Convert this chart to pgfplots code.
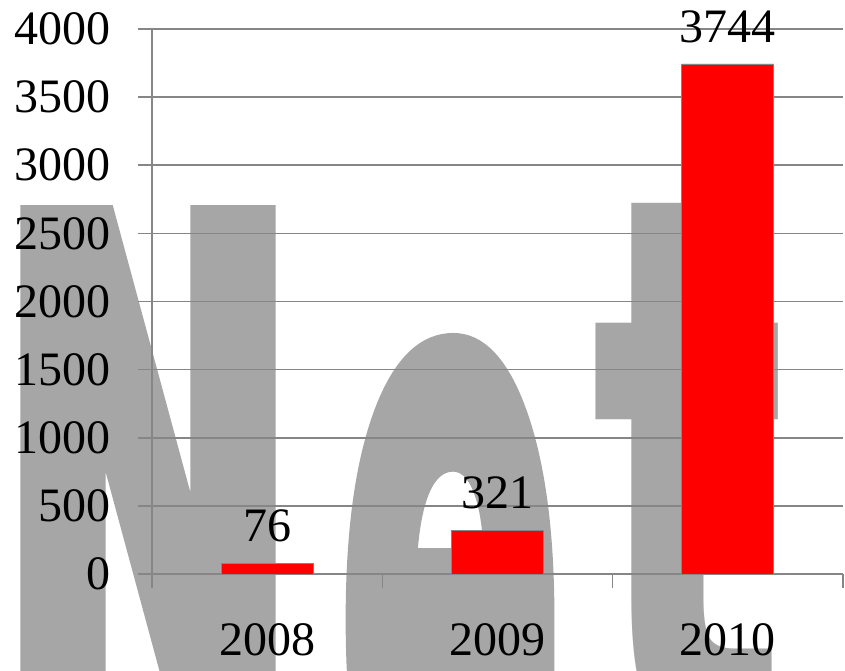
\documentclass[border=0pt]{standalone}
\usepackage{fontspec}
\setmainfont{Liberation Serif}
\newfontfamily\wmfontA{DejaVu Sans}[BoldFeatures={FakeBold=6}]
\newfontfamily\wmfontB{DejaVu Sans}[BoldFeatures={FakeBold=3}]
\newfontfamily\wmfontC{DejaVu Sans}
\usepackage{graphicx}
\usepackage{pgfplots}
\pgfplotsset{compat=1.18}
\definecolor{wm}{RGB}{166,166,166}
\definecolor{gridc}{RGB}{134,134,134}
\newcommand{\bigfont}{\fontsize{48bp}{56bp}\selectfont}
\newcommand{\wmsize}{\bfseries\fontsize{702bp}{702bp}\selectfont}
\begin{document}
\begin{tikzpicture}
\node[anchor=base west, inner sep=0pt, text=wm, overlay] at (-154bp,-164bp)
  {\scalebox{0.51}[1]{\wmfontA\wmsize N}};
\node[anchor=base west, inner sep=0pt, text=wm, overlay] at (184bp,-304bp)
  {\scalebox{0.482}[1.35]{\wmfontB\wmsize e}};
\node[anchor=base west, inner sep=0pt, text=wm, overlay] at (438bp,-171bp)
  {\scalebox{0.588}[1.1]{\wmfontC\wmsize t}};
\begin{axis}[
  at={(0,0)}, anchor=south west,
  scale only axis, width=691bp, height=545bp,
  ybar, bar width=92bp,
  xmin=-0.5, xmax=2.5, ymin=0, ymax=4000,
  xtick={0,1,2}, xticklabels={2008,2009,2010},
  minor xtick={-0.5,0.5,1.5,2.5},
  ytick={0,500,...,4000},
  axis lines=left,
  axis line style={-, draw=gridc, line width=1.5bp},
  ymajorgrids, grid style={draw=gridc, line width=1.5bp},
  tick align=outside, major tick length=14bp, minor tick length=14bp,
  tick style={draw=gridc, line width=1.5bp},
  major x tick style={draw=none},
  minor x tick style={draw=gridc, line width=1.5bp},
  ticklabel style={font=\bigfont, inner sep=0pt},
  yticklabel style={xshift=-27bp},
  xticklabel style={yshift=-35bp},
  /pgf/number format/assume math mode=true,
  /pgf/number format/set thousands separator={},
  nodes near coords,
  nodes near coords style={font=\bigfont, anchor=south, inner sep=0pt, yshift=21bp, text=black},
]
\addplot[fill=red, draw=gridc, line width=0.75bp] coordinates {(0,76) (1,321) (2,3744)};
\end{axis}
\pgfresetboundingbox
\path[use as bounding box] (-152bp,-97bp) rectangle (693bp,574bp);
\end{tikzpicture}
\end{document}
